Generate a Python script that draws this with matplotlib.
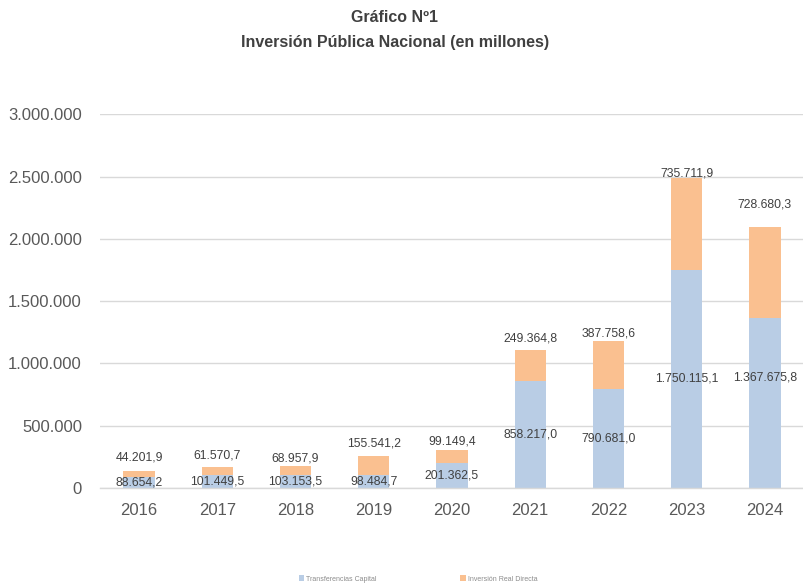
import matplotlib
matplotlib.use("Agg")
import matplotlib.pyplot as plt
from matplotlib.patches import Patch
from matplotlib.ticker import FuncFormatter

years = ["2016", "2017", "2018", "2019", "2020", "2021", "2022", "2023", "2024"]
transferencias = [88654.2, 101449.5, 103153.5, 98484.7, 201362.5, 858217.0, 790681.0, 1750115.1, 1367675.8]
inversion_real = [44201.9, 61570.7, 68957.9, 155541.2, 99149.4, 249364.8, 387758.6, 735711.9, 728680.3]
series_names = ["Transferencias Capital", "Inversión Real Directa"]
yticks = [0, 500000, 1000000, 1500000, 2000000, 2500000, 3000000]

# label placement tweaks (pixels)
blue_dy = [0, 0, 0, 0, 0, 0, 0, 0, 25]
orange_dy = [14, 12, 8, 13, 9, 11, 8, 5, 22]

BLUE = "#B9CDE5"
ORANGE = "#FAC090"
TXT = "#404040"
TICK = "#595959"
GRID = "#D9D9D9"

plt.rcParams['font.family'] = ['Liberation Sans', 'DejaVu Sans']


def fmt_int(v):
    return f"{int(round(v)):,}".replace(",", ".")


def fmt_dec(v):
    s = f"{v:,.1f}"
    return s.replace(",", "X").replace(".", ",").replace("X", ".")


fig = plt.figure(figsize=(8.04, 5.83), dpi=100)
ax = fig.add_axes([100 / 804, (583 - 487.7) / 583, 1 - 100 / 804, (487.7 - 114.5) / 583])

x = list(range(len(years)))
ax.bar(x, transferencias, width=0.4, color=BLUE, zorder=2)
ax.bar(x, inversion_real, width=0.4, bottom=transferencias, color=ORANGE, zorder=2)

ax.set_xlim(-0.5, len(years) - 0.5)
ax.set_ylim(0, 3000000)
ax.set_yticks(yticks)
ax.yaxis.set_major_formatter(FuncFormatter(lambda v, p: fmt_int(v)))
ax.set_xticks(x)
ax.set_xticklabels(years)
ax.tick_params(axis='y', length=0, pad=13, labelsize=12, labelcolor=TICK)
ax.tick_params(axis='x', length=0, pad=11, labelsize=12, labelcolor=TICK)
ax.grid(axis='y', color=GRID, linewidth=1, zorder=0)
ax.set_axisbelow(True)
for s in ["top", "right", "left"]:
    ax.spines[s].set_visible(False)
ax.spines["bottom"].set_color(GRID)
ax.spines["bottom"].set_linewidth(1)

for i in x:
    b = transferencias[i]
    o = inversion_real[i]
    ax.annotate(fmt_dec(b), (i, b / 2), xytext=(0, blue_dy[i] * 0.72), textcoords="offset points",
                ha="center", va="center", fontsize=8.8, color=TXT, zorder=3)
    ax.annotate(fmt_dec(o), (i, b + o), xytext=(0, orange_dy[i] * 0.72), textcoords="offset points",
                ha="center", va="center", fontsize=8.8, color=TXT, zorder=3)

fig.text(395 / 804, 1 - 18 / 583, "Gráfico Nº1", ha="center", va="center", fontsize=11.5,
         fontweight="bold", color=TXT, family=['Liberation Sans Narrow', 'Liberation Sans', 'DejaVu Sans'])
fig.text(395.5 / 804, 1 - 43 / 583, "Inversión Pública Nacional (en millones)", ha="center", va="center",
         fontsize=11.5, fontweight="bold", color=TXT,
         family=['Liberation Sans Narrow', 'Liberation Sans', 'DejaVu Sans'])

handles = [Patch(facecolor=BLUE), Patch(facecolor=ORANGE)]
fig.legend(handles, series_names, loc="center", bbox_to_anchor=(418 / 804, 1 - 579 / 583), ncol=2,
           frameon=False, fontsize=5, labelcolor="#8C8C8C", handlelength=0.8, handleheight=0.8,
           handletextpad=0.3, columnspacing=12)

fig.savefig("out.png", dpi=100)
